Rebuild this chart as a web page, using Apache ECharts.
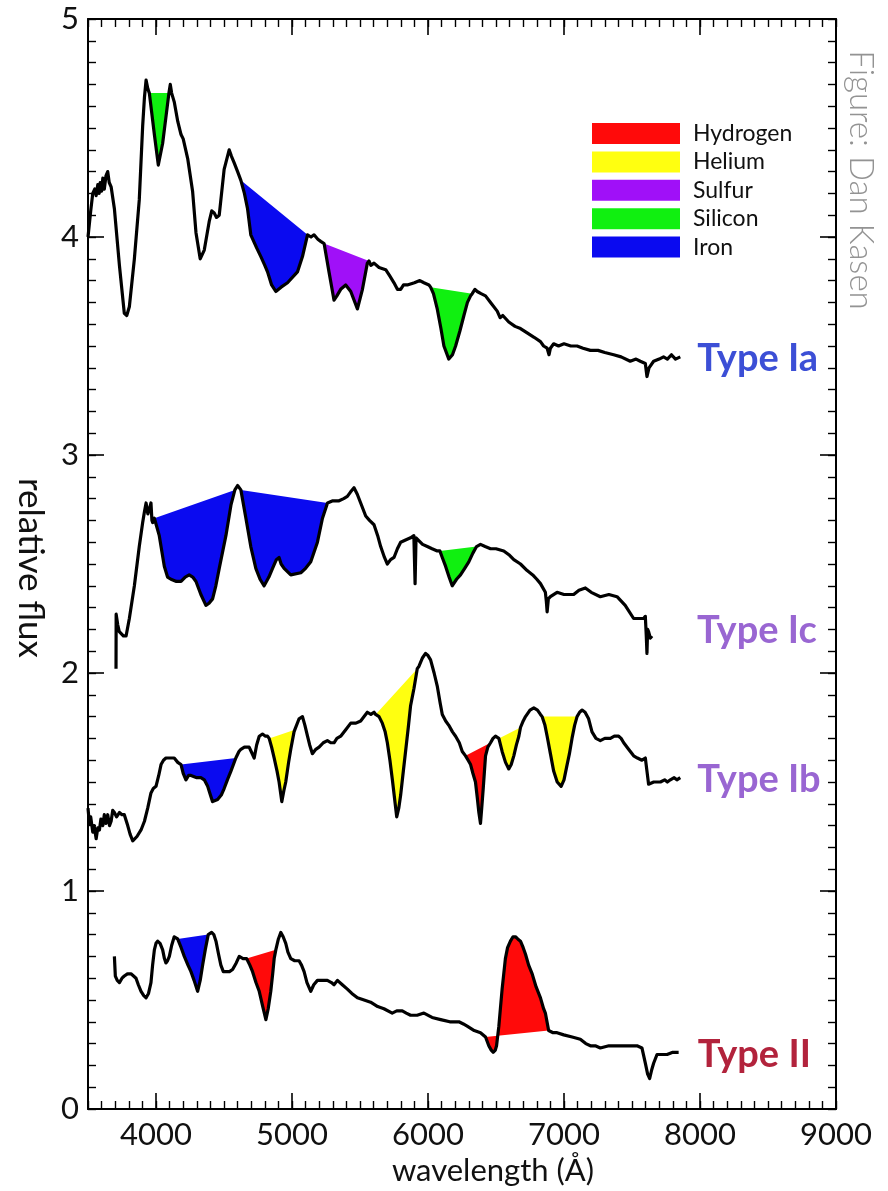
<!DOCTYPE html>
<html>
<head>
<meta charset="utf-8">
<script src="https://cdn.jsdelivr.net/npm/echarts@6/dist/echarts.min.js"></script>
<style>
  html, body { margin: 0; padding: 0; background: #fff; }
  #chart { width: 888px; height: 1191px; }
</style>
</head>
<body>
<div id="chart"></div>
<script>
// Supernova spectra: [wavelength (Å), relative flux]
const specIa = [
  [3500, 4.00], [3520, 4.12], [3535, 4.20], [3550, 4.22], [3560, 4.19], [3572, 4.24], [3582, 4.20], [3590, 4.25],
  [3600, 4.21], [3609, 4.27], [3620, 4.22], [3632, 4.28], [3645, 4.30], [3656, 4.25], [3670, 4.23], [3694, 4.13],
  [3731, 3.87], [3767, 3.65], [3785, 3.64], [3804, 3.68], [3841, 3.90], [3877, 4.17], [3902, 4.51], [3915, 4.64],
  [3927, 4.72], [3940, 4.68], [3951, 4.66], [3988, 4.47], [4017, 4.33], [4049, 4.43], [4095, 4.66], [4105, 4.70],
  [4115, 4.66], [4134, 4.62], [4160, 4.53], [4184, 4.47], [4200, 4.45], [4233, 4.36], [4269, 4.21], [4294, 4.02],
  [4325, 3.90], [4355, 3.94], [4391, 4.07], [4410, 4.12], [4428, 4.11], [4445, 4.09], [4465, 4.10], [4501, 4.31],
  [4538, 4.40], [4555, 4.37], [4575, 4.34], [4600, 4.30], [4624, 4.26], [4650, 4.20], [4673, 4.13], [4697, 4.01],
  [4740, 3.95], [4771, 3.91], [4800, 3.87], [4820, 3.84], [4850, 3.78], [4881, 3.75], [4920, 3.77], [4967, 3.79],
  [5040, 3.84], [5077, 3.91], [5114, 4.01], [5140, 4.00], [5162, 4.01], [5190, 3.99], [5211, 3.98], [5236, 3.97],
  [5272, 3.84], [5309, 3.71], [5330, 3.73], [5358, 3.76], [5395, 3.78], [5432, 3.75], [5481, 3.67], [5518, 3.76],
  [5554, 3.88], [5566, 3.89], [5580, 3.87], [5603, 3.88], [5640, 3.86], [5689, 3.85], [5720, 3.82], [5750, 3.79],
  [5775, 3.76], [5799, 3.76], [5820, 3.78], [5848, 3.78], [5900, 3.79], [5940, 3.80], [5970, 3.79], [6007, 3.78],
  [6019, 3.77], [6040, 3.74], [6068, 3.67], [6095, 3.58], [6117, 3.50], [6153, 3.44], [6180, 3.46], [6203, 3.50],
  [6235, 3.57], [6264, 3.64], [6290, 3.70], [6313, 3.73], [6325, 3.74], [6345, 3.76], [6362, 3.75], [6390, 3.74],
  [6423, 3.73], [6460, 3.70], [6509, 3.66], [6530, 3.63], [6550, 3.64], [6594, 3.61], [6640, 3.59], [6680, 3.58],
  [6729, 3.56], [6780, 3.54], [6827, 3.52], [6850, 3.50], [6876, 3.49], [6890, 3.46], [6900, 3.49], [6924, 3.51],
  [6960, 3.50], [7000, 3.51], [7050, 3.50], [7096, 3.50], [7140, 3.49], [7194, 3.48], [7250, 3.48], [7300, 3.47],
  [7365, 3.46], [7420, 3.45], [7487, 3.43], [7530, 3.44], [7561, 3.43], [7598, 3.42], [7610, 3.36], [7625, 3.40],
  [7659, 3.43], [7700, 3.44], [7732, 3.45], [7760, 3.44], [7790, 3.46], [7820, 3.44], [7855, 3.45]
];

const specIc = [
  [3706, 2.02], [3707, 2.27], [3719, 2.22], [3730, 2.19], [3743, 2.19], [3760, 2.17], [3780, 2.17], [3804, 2.25],
  [3841, 2.40], [3877, 2.58], [3902, 2.69], [3915, 2.74], [3927, 2.78], [3940, 2.73], [3951, 2.75], [3963, 2.78],
  [3970, 2.70], [3976, 2.69], [3988, 2.71], [4024, 2.63], [4061, 2.49], [4085, 2.44], [4110, 2.43], [4150, 2.42],
  [4184, 2.42], [4215, 2.44], [4244, 2.45], [4270, 2.44], [4294, 2.42], [4330, 2.36], [4367, 2.31], [4390, 2.32],
  [4416, 2.34], [4440, 2.40], [4465, 2.48], [4514, 2.63], [4551, 2.77], [4580, 2.84], [4600, 2.86], [4624, 2.84],
  [4661, 2.71], [4697, 2.58], [4734, 2.48], [4765, 2.43], [4795, 2.40], [4830, 2.44], [4857, 2.48], [4885, 2.52],
  [4905, 2.53], [4920, 2.50], [4942, 2.48], [4991, 2.45], [5065, 2.46], [5100, 2.48], [5138, 2.51], [5187, 2.60],
  [5224, 2.71], [5261, 2.78], [5300, 2.79], [5346, 2.79], [5380, 2.80], [5407, 2.81], [5430, 2.83], [5456, 2.85],
  [5480, 2.82], [5505, 2.78], [5542, 2.72], [5570, 2.70], [5603, 2.68], [5630, 2.63], [5652, 2.58], [5680, 2.53],
  [5701, 2.50], [5725, 2.52], [5750, 2.53], [5775, 2.57], [5799, 2.60], [5835, 2.61], [5872, 2.62], [5896, 2.63],
  [5905, 2.41], [5912, 2.62], [5921, 2.62], [5960, 2.59], [5995, 2.58], [6030, 2.57], [6068, 2.56], [6087, 2.56],
  [6105, 2.53], [6129, 2.49], [6155, 2.44], [6178, 2.40], [6210, 2.43], [6239, 2.45], [6270, 2.48], [6300, 2.51],
  [6330, 2.55], [6357, 2.58], [6386, 2.59], [6420, 2.58], [6460, 2.57], [6500, 2.57], [6557, 2.56], [6600, 2.54],
  [6631, 2.52], [6680, 2.50], [6729, 2.47], [6770, 2.45], [6800, 2.43], [6827, 2.41], [6863, 2.37], [6870, 2.33],
  [6876, 2.28], [6885, 2.34], [6900, 2.35], [6949, 2.37], [7000, 2.36], [7071, 2.36], [7110, 2.38], [7157, 2.39],
  [7200, 2.37], [7267, 2.35], [7330, 2.36], [7390, 2.35], [7450, 2.31], [7512, 2.25], [7550, 2.25], [7585, 2.25],
  [7598, 2.26], [7605, 2.17], [7610, 2.09], [7615, 2.20], [7622, 2.19], [7635, 2.16], [7647, 2.17]
];

const specIb = [
  [3500, 1.38], [3510, 1.31], [3520, 1.34], [3535, 1.27], [3545, 1.30], [3560, 1.24], [3572, 1.29], [3584, 1.28],
  [3595, 1.33], [3609, 1.30], [3620, 1.35], [3632, 1.31], [3645, 1.35], [3658, 1.30], [3670, 1.32], [3682, 1.37],
  [3694, 1.36], [3710, 1.34], [3731, 1.36], [3750, 1.35], [3767, 1.35], [3792, 1.30], [3810, 1.26], [3829, 1.23],
  [3860, 1.25], [3890, 1.28], [3915, 1.32], [3939, 1.38], [3963, 1.45], [3980, 1.47], [4000, 1.48], [4020, 1.53],
  [4037, 1.58], [4055, 1.60], [4073, 1.61], [4100, 1.61], [4134, 1.61], [4160, 1.59], [4184, 1.58], [4200, 1.54],
  [4220, 1.51], [4240, 1.53], [4257, 1.53], [4300, 1.52], [4330, 1.52], [4355, 1.51], [4380, 1.48], [4400, 1.44],
  [4416, 1.41], [4453, 1.42], [4480, 1.44], [4501, 1.47], [4525, 1.51], [4551, 1.55], [4587, 1.61], [4610, 1.64],
  [4624, 1.65], [4650, 1.66], [4685, 1.66], [4700, 1.64], [4722, 1.61], [4740, 1.67], [4759, 1.71], [4783, 1.72],
  [4805, 1.71], [4820, 1.71], [4832, 1.70], [4850, 1.66], [4869, 1.61], [4890, 1.55], [4905, 1.50], [4925, 1.41],
  [4940, 1.46], [4954, 1.50], [4975, 1.59], [4991, 1.65], [5015, 1.73], [5021, 1.74], [5052, 1.79], [5077, 1.80],
  [5095, 1.76], [5114, 1.71], [5130, 1.67], [5150, 1.63], [5175, 1.65], [5199, 1.66], [5230, 1.68], [5260, 1.69],
  [5285, 1.68], [5309, 1.68], [5330, 1.70], [5358, 1.71], [5395, 1.74], [5432, 1.77], [5470, 1.77], [5505, 1.78],
  [5530, 1.80], [5554, 1.82], [5580, 1.81], [5603, 1.82], [5615, 1.81], [5640, 1.80], [5664, 1.77], [5685, 1.73],
  [5701, 1.68], [5720, 1.60], [5738, 1.51], [5755, 1.42], [5770, 1.34], [5785, 1.38], [5799, 1.44], [5815, 1.53],
  [5835, 1.64], [5855, 1.75], [5872, 1.85], [5897, 1.93], [5921, 2.02], [5933, 2.03], [5960, 2.07], [5982, 2.09],
  [6000, 2.08], [6019, 2.06], [6045, 2.00], [6068, 1.94], [6090, 1.86], [6105, 1.81], [6130, 1.78], [6153, 1.76],
  [6180, 1.73], [6203, 1.71], [6230, 1.68], [6252, 1.64], [6276, 1.62], [6295, 1.60], [6313, 1.58], [6330, 1.54],
  [6349, 1.50], [6362, 1.43], [6374, 1.36], [6386, 1.31], [6395, 1.38], [6406, 1.47], [6423, 1.62], [6440, 1.66],
  [6460, 1.68], [6478, 1.70], [6496, 1.71], [6521, 1.70], [6545, 1.64], [6570, 1.59], [6594, 1.56], [6612, 1.58],
  [6631, 1.62], [6650, 1.67], [6668, 1.71], [6680, 1.75], [6700, 1.78], [6717, 1.80], [6750, 1.83], [6778, 1.84],
  [6805, 1.83], [6827, 1.81], [6839, 1.80], [6860, 1.76], [6876, 1.71], [6900, 1.63], [6924, 1.55], [6950, 1.50],
  [6979, 1.48], [7000, 1.51], [7023, 1.58], [7040, 1.63], [7059, 1.70], [7078, 1.76], [7096, 1.80], [7115, 1.82],
  [7133, 1.83], [7155, 1.82], [7181, 1.79], [7206, 1.73], [7235, 1.70], [7267, 1.69], [7300, 1.70], [7341, 1.70],
  [7370, 1.71], [7402, 1.71], [7420, 1.70], [7439, 1.68], [7475, 1.65], [7512, 1.62], [7540, 1.61], [7573, 1.60],
  [7598, 1.61], [7610, 1.55], [7622, 1.49], [7660, 1.50], [7709, 1.50], [7740, 1.51], [7760, 1.50], [7782, 1.51],
  [7810, 1.52], [7830, 1.51], [7855, 1.52]
];

const specII = [
  [3694, 0.70], [3701, 0.61], [3715, 0.59], [3731, 0.58], [3750, 0.60], [3767, 0.61], [3790, 0.62], [3816, 0.62],
  [3835, 0.61], [3853, 0.60], [3870, 0.57], [3890, 0.54], [3910, 0.52], [3927, 0.51], [3945, 0.53], [3963, 0.58],
  [3975, 0.66], [3988, 0.73], [4000, 0.76], [4012, 0.77], [4030, 0.76], [4049, 0.73], [4062, 0.69], [4073, 0.67],
  [4085, 0.68], [4098, 0.70], [4115, 0.75], [4134, 0.79], [4148, 0.79], [4159, 0.78], [4185, 0.74], [4208, 0.70],
  [4235, 0.66], [4257, 0.63], [4280, 0.59], [4306, 0.54], [4325, 0.59], [4343, 0.66], [4362, 0.73], [4384, 0.80],
  [4409, 0.81], [4425, 0.80], [4441, 0.77], [4460, 0.71], [4477, 0.66], [4495, 0.63], [4514, 0.63], [4540, 0.63],
  [4563, 0.64], [4590, 0.67], [4612, 0.70], [4640, 0.69], [4666, 0.69], [4690, 0.66], [4710, 0.63], [4735, 0.58],
  [4759, 0.54], [4785, 0.47], [4808, 0.41], [4825, 0.46], [4844, 0.54], [4858, 0.62], [4869, 0.69], [4881, 0.73],
  [4900, 0.78], [4918, 0.81], [4935, 0.79], [4954, 0.76], [4970, 0.72], [4991, 0.69], [5020, 0.68], [5052, 0.68],
  [5070, 0.66], [5089, 0.63], [5110, 0.58], [5138, 0.54], [5160, 0.57], [5187, 0.59], [5225, 0.59], [5260, 0.59],
  [5290, 0.58], [5309, 0.57], [5334, 0.59], [5370, 0.57], [5407, 0.55], [5440, 0.53], [5481, 0.51], [5530, 0.50],
  [5578, 0.49], [5630, 0.47], [5676, 0.46], [5737, 0.44], [5770, 0.45], [5811, 0.45], [5840, 0.44], [5872, 0.43],
  [5920, 0.43], [5970, 0.44], [6030, 0.42], [6093, 0.41], [6160, 0.40], [6227, 0.40], [6260, 0.39], [6288, 0.38],
  [6340, 0.36], [6386, 0.35], [6423, 0.33], [6447, 0.29], [6465, 0.27], [6479, 0.26], [6495, 0.27], [6504, 0.29],
  [6521, 0.38], [6535, 0.48], [6545, 0.55], [6569, 0.69], [6585, 0.74], [6606, 0.77], [6625, 0.79], [6643, 0.79],
  [6660, 0.78], [6680, 0.77], [6700, 0.74], [6717, 0.71], [6740, 0.66], [6766, 0.62], [6795, 0.56], [6827, 0.51],
  [6850, 0.46], [6863, 0.44], [6887, 0.36], [6920, 0.35], [6949, 0.35], [6998, 0.34], [7060, 0.33], [7120, 0.32],
  [7160, 0.30], [7194, 0.29], [7230, 0.29], [7267, 0.28], [7330, 0.29], [7390, 0.29], [7460, 0.29], [7537, 0.29],
  [7573, 0.28], [7598, 0.21], [7615, 0.16], [7630, 0.14], [7645, 0.18], [7659, 0.21], [7684, 0.25], [7720, 0.25],
  [7758, 0.25], [7800, 0.26], [7843, 0.26]
];

const spectra = [specIa, specIc, specIb, specII];
const spectrumNames = ['Type Ia', 'Type Ic', 'Type Ib', 'Type II'];

// Line features: [spectrum index, start wavelength, end wavelength]
const hydrogen = [[2, 6276, 6460], [3, 4666, 4881], [3, 6423, 6887]];
const helium = [[2, 4832, 5021], [2, 5615, 5921], [2, 6521, 6680], [2, 6839, 7096]];
const sulfur = [[0, 5236, 5566]];
const silicon = [[0, 3951, 4095], [0, 6019, 6325], [1, 6087, 6357]];
const iron = [[0, 4624, 5114], [1, 3988, 4580], [1, 4624, 5261], [2, 4184, 4587], [3, 4159, 4384]];

const elementNames = ['Hydrogen', 'Helium', 'Sulfur', 'Silicon', 'Iron'];
const elementFeatures = [hydrogen, helium, sulfur, silicon, iron];
const elementColors = ['#ff0a0a', '#ffff10', '#a010f8', '#10f010', '#0a0af0'];

const xMajorTicks = [4000, 5000, 6000, 7000, 8000, 9000];

const labelColors = ['#3c4fd6', '#9966d2', '#9966d2', '#b2233c'];
const labelOffsets = [[9, 2], [37, -5], [9, 2], [11, 2]];

const FONT = 'Lato, "Noto Sans", sans-serif';

// Shaded feature: spectrum segment closed by a straight chord between its ends
function renderFeature(params, api) {
  const spec = spectra[api.value(0)];
  const s = api.value(1), e = api.value(2);
  const pts = spec.filter(p => p[0] >= s && p[0] <= e).map(p => api.coord(p));
  return {
    type: 'polygon',
    shape: { points: pts },
    style: { fill: api.visual('color'), stroke: null }
  };
}

const fillSeries = elementNames.map((name, i) => ({
  type: 'custom',
  name: name,
  xAxisIndex: 0,
  yAxisIndex: 0,
  z: 1,
  itemStyle: { color: elementColors[i] },
  data: elementFeatures[i],
  encode: { x: [1, 2], y: 0 },
  renderItem: renderFeature,
  silent: true
}));

const lineSeries = spectra.map((spec, i) => ({
  type: 'line',
  name: spectrumNames[i],
  xAxisIndex: 0,
  yAxisIndex: 0,
  z: 3,
  data: spec,
  showSymbol: false,
  symbol: 'none',
  lineStyle: { color: '#000', width: 3.2, join: 'round' },
  itemStyle: { color: '#000' },
  endLabel: {
    show: true,
    formatter: spectrumNames[i],
    color: labelColors[i],
    fontFamily: FONT,
    fontSize: 38,
    fontWeight: 'bold',
    offset: labelOffsets[i]
  },
  silent: true
}));

function frameX(position, major) {
  return {
    type: 'value', min: 3500, max: 9000, position: position,
    interval: major ? undefined : 100,
    axisLine: { show: !major, onZero: false, lineStyle: { color: '#000', width: 2 } },
    axisTick: major
      ? { show: true, inside: true, length: 16, customValues: xMajorTicks, lineStyle: { color: '#000', width: 1.6 } }
      : { show: true, inside: true, length: 8, lineStyle: { color: '#000', width: 1.4 } },
    axisLabel: { show: false },
    splitLine: { show: false }
  };
}

function frameY(position, major) {
  return {
    type: 'value', min: 0, max: 5, position: position,
    interval: major ? 1 : 0.1,
    axisLine: { show: !major, onZero: false, lineStyle: { color: '#000', width: 2 } },
    axisTick: { show: true, inside: true, length: major ? 16 : 8, lineStyle: { color: '#000', width: major ? 1.6 : 1.4 } },
    axisLabel: { show: false },
    splitLine: { show: false }
  };
}

const xBottom = frameX('bottom', false);
xBottom.axisLabel = {
  show: true, margin: 10, color: '#111', fontFamily: FONT, fontSize: 31,
  formatter: v => (Math.round(v) % 1000 === 0 && v > 3500) ? String(Math.round(v)) : ''
};
xBottom.name = 'wavelength (Å)';
xBottom.nameLocation = 'middle';
xBottom.nameGap = 46;
xBottom.nameTextStyle = { color: '#111', fontFamily: FONT, fontSize: 31, padding: [0, 0, 0, 62] };

const yLeft = frameY('left', false);
yLeft.axisLabel = {
  show: true, margin: 9, color: '#111', fontFamily: FONT, fontSize: 31,
  formatter: v => Math.abs(v - Math.round(v)) < 1e-6 ? String(Math.round(v)) : ''
};
yLeft.name = 'relative flux';
yLeft.nameLocation = 'middle';
yLeft.nameRotate = -90;
yLeft.nameGap = 40;
yLeft.nameTextStyle = { color: '#111', fontFamily: FONT, fontSize: 35, padding: [0, 0, 0, 8] };

const option = {
  animation: false,
  backgroundColor: '#fff',
  grid: { left: 88, right: 52, top: 19, bottom: 81, containLabel: false },
  legend: {
    data: elementNames,
    orient: 'vertical',
    left: 592, top: 122,
    padding: 0,
    itemWidth: 88, itemHeight: 21, itemGap: 5.4,
    icon: 'rect',
    selectedMode: false,
    textStyle: { color: '#111', fontFamily: FONT, fontSize: 23, padding: [0, 0, 0, 8] }
  },
  xAxis: [xBottom, frameX('bottom', true), frameX('top', false), frameX('top', true)],
  yAxis: [yLeft, frameY('left', true), frameY('right', false), frameY('right', true)],
  graphic: [{
    type: 'text',
    x: 861, y: 180,
    rotation: -Math.PI / 2,
    style: {
      text: 'Figure: Dan Kasen',
      fill: '#939393',
      font: '300 33px Lato, "Noto Sans", sans-serif',
      align: 'center',
      verticalAlign: 'middle'
    }
  }],
  series: [...fillSeries, ...lineSeries]
};

const chart = echarts.init(document.getElementById('chart'), null, { renderer: 'canvas' });
chart.setOption(option);
</script>
</body>
</html>
